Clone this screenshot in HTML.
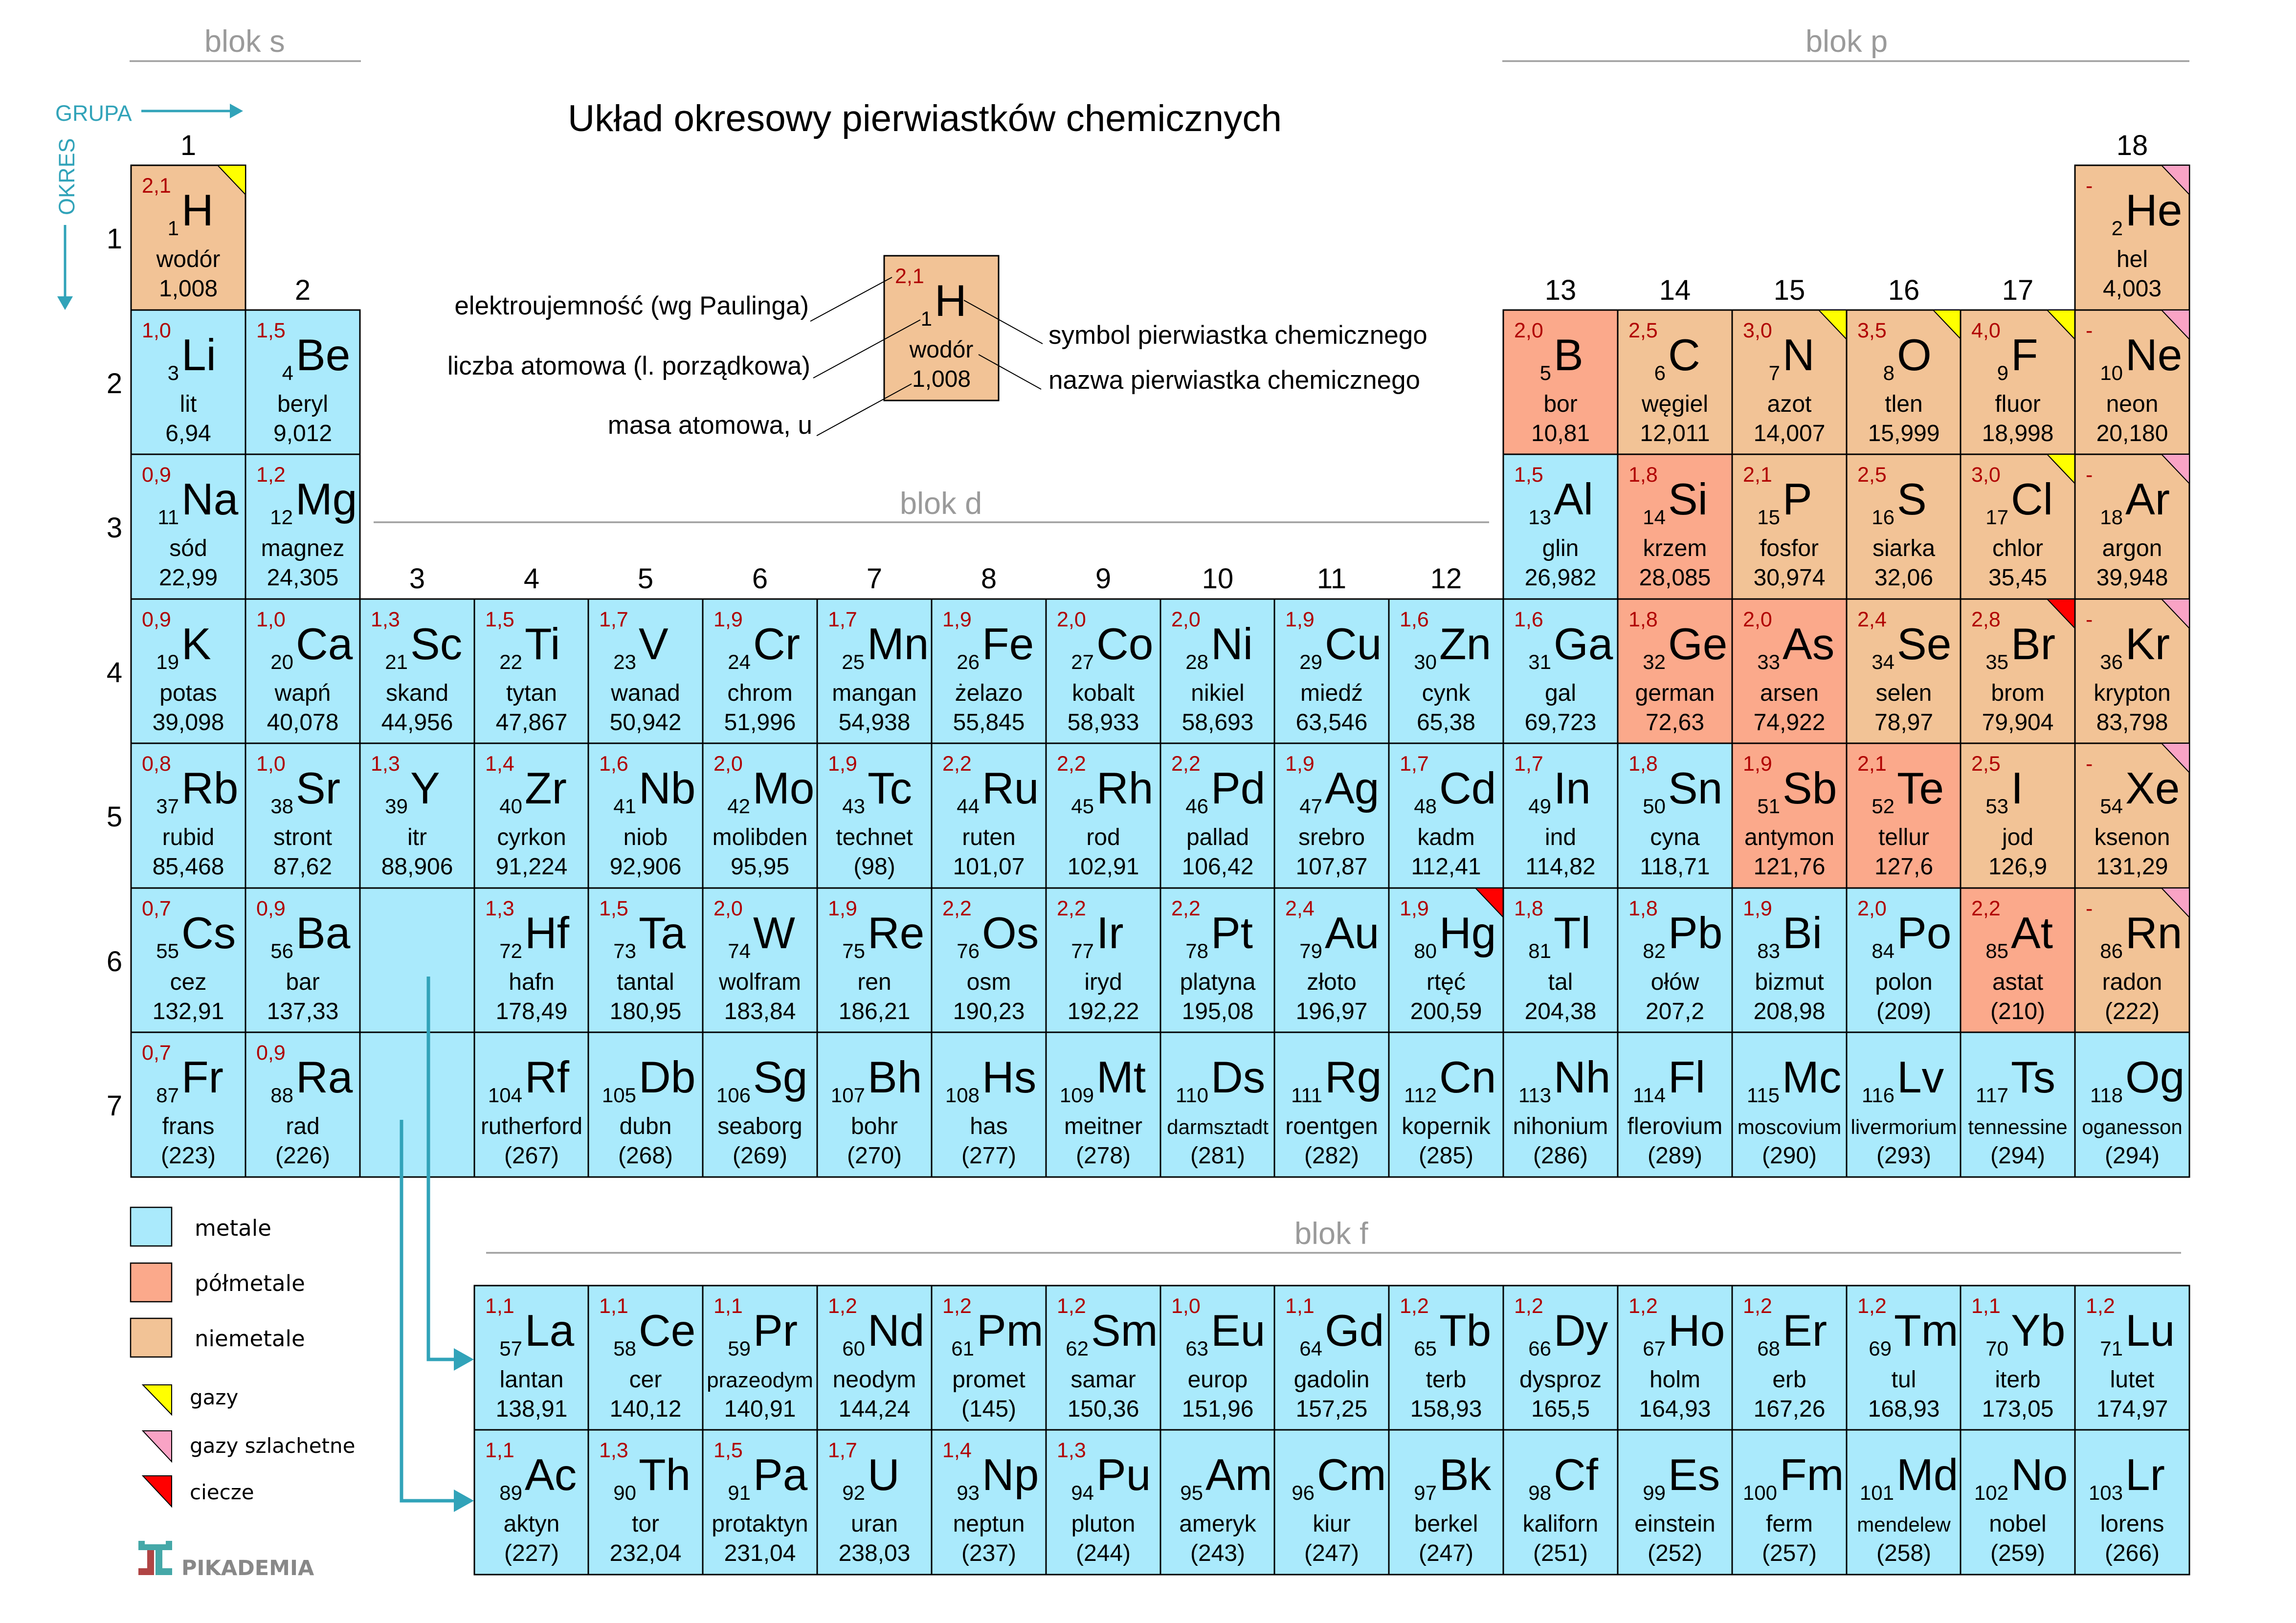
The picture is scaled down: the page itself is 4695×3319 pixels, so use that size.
<!DOCTYPE html>
<html lang="pl">
<head>
<meta charset="utf-8">
<title>Układ okresowy pierwiastków chemicznych</title>
<style>
html,body{margin:0;padding:0;background:#fff;}
svg{display:block;}
text{font-family:"Liberation Sans",Arial,sans-serif;fill:#000;}
.M{fill:#aaeafc;stroke:#000;stroke-width:3;}
.P{fill:#fba98b;stroke:#000;stroke-width:3;}
.N{fill:#f2c396;stroke:#000;stroke-width:3;}
.t1{fill:#ffff00;stroke:#000;stroke-width:2;}
.t2{fill:#f9a3c5;stroke:#000;stroke-width:2;}
.t3{fill:#ff0000;stroke:#000;stroke-width:2;}
.e{fill:#b00000;font-size:43px;}
.z{font-size:42px;text-anchor:end;}
.s{font-size:91px;}
.n{font-size:48px;text-anchor:middle;}
.ns{font-size:42px;text-anchor:middle;}
.w{font-size:48px;text-anchor:middle;}
.g{font-size:58px;text-anchor:middle;}
.b{font-size:63px;fill:#9a9a9a;}
.bl{stroke:#a0a0a0;stroke-width:3.5;}
.lg{font-family:"DejaVu Sans",Verdana,sans-serif;}
.ann{font-size:53px;}
.ld{stroke:#000;stroke-width:2;fill:none;}
.teal{fill:#31a3b9;}
</style>
</head>
<body>
<svg xmlns="http://www.w3.org/2000/svg" width="4695" height="3319" viewBox="0 0 4695 3319">
<rect x="0" y="0" width="4695" height="3319" fill="#fff"/>

<!-- block labels -->
<line class="bl" x1="265" y1="125" x2="738" y2="125"/>
<text class="b" x="418" y="106">blok s</text>
<line class="bl" x1="3072" y1="125" x2="4477" y2="125"/>
<text class="b" x="3692" y="106">blok p</text>
<line class="bl" x1="764" y1="1068" x2="3045" y2="1068"/>
<text class="b" x="1840" y="1051">blok d</text>
<line class="bl" x1="994" y1="2562" x2="4460" y2="2562"/>
<text class="b" x="2647" y="2544">blok f</text>

<!-- GRUPA / OKRES -->
<text x="113" y="247" font-size="45" fill="#31a3b9" style="fill:#31a3b9">GRUPA</text>
<line x1="289" y1="227" x2="474" y2="227" stroke="#31a3b9" stroke-width="5"/>
<polygon class="teal" points="470,212 497,227 470,242"/>
<text transform="translate(152,440) rotate(-90)" font-size="45" style="fill:#31a3b9">OKRES</text>
<line x1="133" y1="460" x2="133" y2="610" stroke="#31a3b9" stroke-width="5"/>
<polygon class="teal" points="117,606 149,606 133,634"/>

<!-- Title -->
<text x="1161" y="268" font-size="76" textLength="1460" lengthAdjust="spacingAndGlyphs">Układ okresowy pierwiastków chemicznych</text>

<!-- group numbers -->
<text class="g" x="385" y="317">1</text>
<text class="g" x="619" y="613">2</text>
<text class="g" x="853" y="1203">3</text>
<text class="g" x="1087" y="1203">4</text>
<text class="g" x="1320" y="1203">5</text>
<text class="g" x="1554" y="1203">6</text>
<text class="g" x="1788" y="1203">7</text>
<text class="g" x="2022" y="1203">8</text>
<text class="g" x="2256" y="1203">9</text>
<text class="g" x="2490" y="1203">10</text>
<text class="g" x="2723" y="1203">11</text>
<text class="g" x="2957" y="1203">12</text>
<text class="g" x="3191" y="613">13</text>
<text class="g" x="3425" y="613">14</text>
<text class="g" x="3659" y="613">15</text>
<text class="g" x="3893" y="613">16</text>
<text class="g" x="4126" y="613">17</text>
<text class="g" x="4360" y="317">18</text>

<!-- period numbers -->
<text class="g" x="234" y="508">1</text>
<text class="g" x="234" y="804">2</text>
<text class="g" x="234" y="1099">3</text>
<text class="g" x="234" y="1395">4</text>
<text class="g" x="234" y="1690">5</text>
<text class="g" x="234" y="1986">6</text>
<text class="g" x="234" y="2281">7</text>

<!-- Key diagram -->
<g transform="translate(1808,523)"><rect class="N" width="234" height="296"/><text class="e" x="22" y="56">2,1</text><text class="z" x="98" y="143">1</text><text class="s" x="103" y="123">H</text><text class="n" x="117" y="208">wodór</text><text class="w" x="117" y="268">1,008</text></g>
<text class="ann" x="1654" y="643" text-anchor="end">elektroujemność (wg Paulinga)</text>
<text class="ann" x="1657" y="766" text-anchor="end">liczba atomowa (l. porządkowa)</text>
<text class="ann" x="1661" y="887" text-anchor="end">masa atomowa, u</text>
<text class="ann" x="2144" y="703">symbol pierwiastka chemicznego</text>
<text class="ann" x="2144" y="795">nazwa pierwiastka chemicznego</text>
<line class="ld" x1="1657" y1="657" x2="1824" y2="567"/>
<line class="ld" x1="1663" y1="773" x2="1882" y2="654"/>
<line class="ld" x1="1670" y1="891" x2="1864" y2="785"/>
<line class="ld" x1="1971" y1="614" x2="2132" y2="703"/>
<line class="ld" x1="2001" y1="725" x2="2129" y2="796"/>

<!-- ROW 1 -->
<g transform="translate(268,338)"><rect class="N" width="234" height="296"/><path class="t1" d="M177 0H234V60Z"/><text class="e" x="22" y="56">2,1</text><text class="z" x="98" y="143">1</text><text class="s" x="103" y="123">H</text><text class="n" x="117" y="208">wodór</text><text class="w" x="117" y="268">1,008</text></g>
<g transform="translate(4243,338)"><rect class="N" width="234" height="296"/><path class="t2" d="M177 0H234V60Z"/><text class="e" x="22" y="56">-</text><text class="z" x="98" y="143">2</text><text class="s" x="103" y="123">He</text><text class="n" x="117" y="208">hel</text><text class="w" x="117" y="268">4,003</text></g>

<!-- ROW 2 -->
<g transform="translate(268,634)"><rect class="M" width="234" height="296"/><text class="e" x="22" y="56">1,0</text><text class="z" x="98" y="143">3</text><text class="s" x="103" y="123">Li</text><text class="n" x="117" y="208">lit</text><text class="w" x="117" y="268">6,94</text></g>
<g transform="translate(502,634)"><rect class="M" width="234" height="296"/><text class="e" x="22" y="56">1,5</text><text class="z" x="98" y="143">4</text><text class="s" x="103" y="123">Be</text><text class="n" x="117" y="208">beryl</text><text class="w" x="117" y="268">9,012</text></g>
<g transform="translate(3074,634)"><rect class="P" width="234" height="296"/><text class="e" x="22" y="56">2,0</text><text class="z" x="98" y="143">5</text><text class="s" x="103" y="123">B</text><text class="n" x="117" y="208">bor</text><text class="w" x="117" y="268">10,81</text></g>
<g transform="translate(3308,634)"><rect class="N" width="234" height="296"/><text class="e" x="22" y="56">2,5</text><text class="z" x="98" y="143">6</text><text class="s" x="103" y="123">C</text><text class="n" x="117" y="208">węgiel</text><text class="w" x="117" y="268">12,011</text></g>
<g transform="translate(3542,634)"><rect class="N" width="234" height="296"/><path class="t1" d="M177 0H234V60Z"/><text class="e" x="22" y="56">3,0</text><text class="z" x="98" y="143">7</text><text class="s" x="103" y="123">N</text><text class="n" x="117" y="208">azot</text><text class="w" x="117" y="268">14,007</text></g>
<g transform="translate(3776,634)"><rect class="N" width="234" height="296"/><path class="t1" d="M177 0H234V60Z"/><text class="e" x="22" y="56">3,5</text><text class="z" x="98" y="143">8</text><text class="s" x="103" y="123">O</text><text class="n" x="117" y="208">tlen</text><text class="w" x="117" y="268">15,999</text></g>
<g transform="translate(4009,634)"><rect class="N" width="234" height="296"/><path class="t1" d="M177 0H234V60Z"/><text class="e" x="22" y="56">4,0</text><text class="z" x="98" y="143">9</text><text class="s" x="103" y="123">F</text><text class="n" x="117" y="208">fluor</text><text class="w" x="117" y="268">18,998</text></g>
<g transform="translate(4243,634)"><rect class="N" width="234" height="296"/><path class="t2" d="M177 0H234V60Z"/><text class="e" x="22" y="56">-</text><text class="z" x="98" y="143">10</text><text class="s" x="103" y="123">Ne</text><text class="n" x="117" y="208">neon</text><text class="w" x="117" y="268">20,180</text></g>

<!-- ROW 3 -->
<g transform="translate(268,929)"><rect class="M" width="234" height="296"/><text class="e" x="22" y="56">0,9</text><text class="z" x="98" y="143">11</text><text class="s" x="103" y="123">Na</text><text class="n" x="117" y="208">sód</text><text class="w" x="117" y="268">22,99</text></g>
<g transform="translate(502,929)"><rect class="M" width="234" height="296"/><text class="e" x="22" y="56">1,2</text><text class="z" x="97" y="143">12</text><text class="s" x="102" y="123">Mg</text><text class="n" x="117" y="208">magnez</text><text class="w" x="117" y="268">24,305</text></g>
<g transform="translate(3074,929)"><rect class="M" width="234" height="296"/><text class="e" x="22" y="56">1,5</text><text class="z" x="98" y="143">13</text><text class="s" x="103" y="123">Al</text><text class="n" x="117" y="208">glin</text><text class="w" x="117" y="268">26,982</text></g>
<g transform="translate(3308,929)"><rect class="P" width="234" height="296"/><text class="e" x="22" y="56">1,8</text><text class="z" x="98" y="143">14</text><text class="s" x="103" y="123">Si</text><text class="n" x="117" y="208">krzem</text><text class="w" x="117" y="268">28,085</text></g>
<g transform="translate(3542,929)"><rect class="N" width="234" height="296"/><text class="e" x="22" y="56">2,1</text><text class="z" x="98" y="143">15</text><text class="s" x="103" y="123">P</text><text class="n" x="117" y="208">fosfor</text><text class="w" x="117" y="268">30,974</text></g>
<g transform="translate(3776,929)"><rect class="N" width="234" height="296"/><text class="e" x="22" y="56">2,5</text><text class="z" x="98" y="143">16</text><text class="s" x="103" y="123">S</text><text class="n" x="117" y="208">siarka</text><text class="w" x="117" y="268">32,06</text></g>
<g transform="translate(4009,929)"><rect class="N" width="234" height="296"/><path class="t1" d="M177 0H234V60Z"/><text class="e" x="22" y="56">3,0</text><text class="z" x="98" y="143">17</text><text class="s" x="103" y="123">Cl</text><text class="n" x="117" y="208">chlor</text><text class="w" x="117" y="268">35,45</text></g>
<g transform="translate(4243,929)"><rect class="N" width="234" height="296"/><path class="t2" d="M177 0H234V60Z"/><text class="e" x="22" y="56">-</text><text class="z" x="98" y="143">18</text><text class="s" x="103" y="123">Ar</text><text class="n" x="117" y="208">argon</text><text class="w" x="117" y="268">39,948</text></g>

<!-- ROW 4 -->
<g transform="translate(268,1225)"><rect class="M" width="234" height="296"/><text class="e" x="22" y="56">0,9</text><text class="z" x="98" y="143">19</text><text class="s" x="103" y="123">K</text><text class="n" x="117" y="208">potas</text><text class="w" x="117" y="268">39,098</text></g>
<g transform="translate(502,1225)"><rect class="M" width="234" height="296"/><text class="e" x="22" y="56">1,0</text><text class="z" x="98" y="143">20</text><text class="s" x="103" y="123">Ca</text><text class="n" x="117" y="208">wapń</text><text class="w" x="117" y="268">40,078</text></g>
<g transform="translate(736,1225)"><rect class="M" width="234" height="296"/><text class="e" x="22" y="56">1,3</text><text class="z" x="98" y="143">21</text><text class="s" x="103" y="123">Sc</text><text class="n" x="117" y="208">skand</text><text class="w" x="117" y="268">44,956</text></g>
<g transform="translate(970,1225)"><rect class="M" width="234" height="296"/><text class="e" x="22" y="56">1,5</text><text class="z" x="98" y="143">22</text><text class="s" x="103" y="123">Ti</text><text class="n" x="117" y="208">tytan</text><text class="w" x="117" y="268">47,867</text></g>
<g transform="translate(1203,1225)"><rect class="M" width="234" height="296"/><text class="e" x="22" y="56">1,7</text><text class="z" x="98" y="143">23</text><text class="s" x="103" y="123">V</text><text class="n" x="117" y="208">wanad</text><text class="w" x="117" y="268">50,942</text></g>
<g transform="translate(1437,1225)"><rect class="M" width="234" height="296"/><text class="e" x="22" y="56">1,9</text><text class="z" x="98" y="143">24</text><text class="s" x="103" y="123">Cr</text><text class="n" x="117" y="208">chrom</text><text class="w" x="117" y="268">51,996</text></g>
<g transform="translate(1671,1225)"><rect class="M" width="234" height="296"/><text class="e" x="22" y="56">1,7</text><text class="z" x="97" y="143">25</text><text class="s" x="102" y="123">Mn</text><text class="n" x="117" y="208">mangan</text><text class="w" x="117" y="268">54,938</text></g>
<g transform="translate(1905,1225)"><rect class="M" width="234" height="296"/><text class="e" x="22" y="56">1,9</text><text class="z" x="98" y="143">26</text><text class="s" x="103" y="123">Fe</text><text class="n" x="117" y="208">żelazo</text><text class="w" x="117" y="268">55,845</text></g>
<g transform="translate(2139,1225)"><rect class="M" width="234" height="296"/><text class="e" x="22" y="56">2,0</text><text class="z" x="98" y="143">27</text><text class="s" x="103" y="123">Co</text><text class="n" x="117" y="208">kobalt</text><text class="w" x="117" y="268">58,933</text></g>
<g transform="translate(2373,1225)"><rect class="M" width="234" height="296"/><text class="e" x="22" y="56">2,0</text><text class="z" x="98" y="143">28</text><text class="s" x="103" y="123">Ni</text><text class="n" x="117" y="208">nikiel</text><text class="w" x="117" y="268">58,693</text></g>
<g transform="translate(2606,1225)"><rect class="M" width="234" height="296"/><text class="e" x="22" y="56">1,9</text><text class="z" x="98" y="143">29</text><text class="s" x="103" y="123">Cu</text><text class="n" x="117" y="208">miedź</text><text class="w" x="117" y="268">63,546</text></g>
<g transform="translate(2840,1225)"><rect class="M" width="234" height="296"/><text class="e" x="22" y="56">1,6</text><text class="z" x="98" y="143">30</text><text class="s" x="103" y="123">Zn</text><text class="n" x="117" y="208">cynk</text><text class="w" x="117" y="268">65,38</text></g>
<g transform="translate(3074,1225)"><rect class="M" width="234" height="296"/><text class="e" x="22" y="56">1,6</text><text class="z" x="98" y="143">31</text><text class="s" x="103" y="123">Ga</text><text class="n" x="117" y="208">gal</text><text class="w" x="117" y="268">69,723</text></g>
<g transform="translate(3308,1225)"><rect class="P" width="234" height="296"/><text class="e" x="22" y="56">1,8</text><text class="z" x="98" y="143">32</text><text class="s" x="103" y="123">Ge</text><text class="n" x="117" y="208">german</text><text class="w" x="117" y="268">72,63</text></g>
<g transform="translate(3542,1225)"><rect class="P" width="234" height="296"/><text class="e" x="22" y="56">2,0</text><text class="z" x="98" y="143">33</text><text class="s" x="103" y="123">As</text><text class="n" x="117" y="208">arsen</text><text class="w" x="117" y="268">74,922</text></g>
<g transform="translate(3776,1225)"><rect class="N" width="234" height="296"/><text class="e" x="22" y="56">2,4</text><text class="z" x="98" y="143">34</text><text class="s" x="103" y="123">Se</text><text class="n" x="117" y="208">selen</text><text class="w" x="117" y="268">78,97</text></g>
<g transform="translate(4009,1225)"><rect class="N" width="234" height="296"/><path class="t3" d="M177 0H234V60Z"/><text class="e" x="22" y="56">2,8</text><text class="z" x="98" y="143">35</text><text class="s" x="103" y="123">Br</text><text class="n" x="117" y="208">brom</text><text class="w" x="117" y="268">79,904</text></g>
<g transform="translate(4243,1225)"><rect class="N" width="234" height="296"/><path class="t2" d="M177 0H234V60Z"/><text class="e" x="22" y="56">-</text><text class="z" x="98" y="143">36</text><text class="s" x="103" y="123">Kr</text><text class="n" x="117" y="208">krypton</text><text class="w" x="117" y="268">83,798</text></g>

<!-- ROW 5 -->
<g transform="translate(268,1520)"><rect class="M" width="234" height="296"/><text class="e" x="22" y="56">0,8</text><text class="z" x="98" y="143">37</text><text class="s" x="103" y="123">Rb</text><text class="n" x="117" y="208">rubid</text><text class="w" x="117" y="268">85,468</text></g>
<g transform="translate(502,1520)"><rect class="M" width="234" height="296"/><text class="e" x="22" y="56">1,0</text><text class="z" x="98" y="143">38</text><text class="s" x="103" y="123">Sr</text><text class="n" x="117" y="208">stront</text><text class="w" x="117" y="268">87,62</text></g>
<g transform="translate(736,1520)"><rect class="M" width="234" height="296"/><text class="e" x="22" y="56">1,3</text><text class="z" x="98" y="143">39</text><text class="s" x="103" y="123">Y</text><text class="n" x="117" y="208">itr</text><text class="w" x="117" y="268">88,906</text></g>
<g transform="translate(970,1520)"><rect class="M" width="234" height="296"/><text class="e" x="22" y="56">1,4</text><text class="z" x="98" y="143">40</text><text class="s" x="103" y="123">Zr</text><text class="n" x="117" y="208">cyrkon</text><text class="w" x="117" y="268">91,224</text></g>
<g transform="translate(1203,1520)"><rect class="M" width="234" height="296"/><text class="e" x="22" y="56">1,6</text><text class="z" x="98" y="143">41</text><text class="s" x="103" y="123">Nb</text><text class="n" x="117" y="208">niob</text><text class="w" x="117" y="268">92,906</text></g>
<g transform="translate(1437,1520)"><rect class="M" width="234" height="296"/><text class="e" x="22" y="56">2,0</text><text class="z" x="97" y="143">42</text><text class="s" x="102" y="123">Mo</text><text class="n" x="117" y="208">molibden</text><text class="w" x="117" y="268">95,95</text></g>
<g transform="translate(1671,1520)"><rect class="M" width="234" height="296"/><text class="e" x="22" y="56">1,9</text><text class="z" x="98" y="143">43</text><text class="s" x="103" y="123">Tc</text><text class="n" x="117" y="208">technet</text><text class="w" x="117" y="268">(98)</text></g>
<g transform="translate(1905,1520)"><rect class="M" width="234" height="296"/><text class="e" x="22" y="56">2,2</text><text class="z" x="98" y="143">44</text><text class="s" x="103" y="123">Ru</text><text class="n" x="117" y="208">ruten</text><text class="w" x="117" y="268">101,07</text></g>
<g transform="translate(2139,1520)"><rect class="M" width="234" height="296"/><text class="e" x="22" y="56">2,2</text><text class="z" x="98" y="143">45</text><text class="s" x="103" y="123">Rh</text><text class="n" x="117" y="208">rod</text><text class="w" x="117" y="268">102,91</text></g>
<g transform="translate(2373,1520)"><rect class="M" width="234" height="296"/><text class="e" x="22" y="56">2,2</text><text class="z" x="98" y="143">46</text><text class="s" x="103" y="123">Pd</text><text class="n" x="117" y="208">pallad</text><text class="w" x="117" y="268">106,42</text></g>
<g transform="translate(2606,1520)"><rect class="M" width="234" height="296"/><text class="e" x="22" y="56">1,9</text><text class="z" x="98" y="143">47</text><text class="s" x="103" y="123">Ag</text><text class="n" x="117" y="208">srebro</text><text class="w" x="117" y="268">107,87</text></g>
<g transform="translate(2840,1520)"><rect class="M" width="234" height="296"/><text class="e" x="22" y="56">1,7</text><text class="z" x="98" y="143">48</text><text class="s" x="103" y="123">Cd</text><text class="n" x="117" y="208">kadm</text><text class="w" x="117" y="268">112,41</text></g>
<g transform="translate(3074,1520)"><rect class="M" width="234" height="296"/><text class="e" x="22" y="56">1,7</text><text class="z" x="98" y="143">49</text><text class="s" x="103" y="123">In</text><text class="n" x="117" y="208">ind</text><text class="w" x="117" y="268">114,82</text></g>
<g transform="translate(3308,1520)"><rect class="M" width="234" height="296"/><text class="e" x="22" y="56">1,8</text><text class="z" x="98" y="143">50</text><text class="s" x="103" y="123">Sn</text><text class="n" x="117" y="208">cyna</text><text class="w" x="117" y="268">118,71</text></g>
<g transform="translate(3542,1520)"><rect class="P" width="234" height="296"/><text class="e" x="22" y="56">1,9</text><text class="z" x="98" y="143">51</text><text class="s" x="103" y="123">Sb</text><text class="n" x="117" y="208">antymon</text><text class="w" x="117" y="268">121,76</text></g>
<g transform="translate(3776,1520)"><rect class="P" width="234" height="296"/><text class="e" x="22" y="56">2,1</text><text class="z" x="98" y="143">52</text><text class="s" x="103" y="123">Te</text><text class="n" x="117" y="208">tellur</text><text class="w" x="117" y="268">127,6</text></g>
<g transform="translate(4009,1520)"><rect class="N" width="234" height="296"/><text class="e" x="22" y="56">2,5</text><text class="z" x="98" y="143">53</text><text class="s" x="103" y="123">I</text><text class="n" x="117" y="208">jod</text><text class="w" x="117" y="268">126,9</text></g>
<g transform="translate(4243,1520)"><rect class="N" width="234" height="296"/><path class="t2" d="M177 0H234V60Z"/><text class="e" x="22" y="56">-</text><text class="z" x="98" y="143">54</text><text class="s" x="103" y="123">Xe</text><text class="n" x="117" y="208">ksenon</text><text class="w" x="117" y="268">131,29</text></g>

<!-- ROW 6 -->
<g transform="translate(268,1816)"><rect class="M" width="234" height="296"/><text class="e" x="22" y="56">0,7</text><text class="z" x="98" y="143">55</text><text class="s" x="103" y="123">Cs</text><text class="n" x="117" y="208">cez</text><text class="w" x="117" y="268">132,91</text></g>
<g transform="translate(502,1816)"><rect class="M" width="234" height="296"/><text class="e" x="22" y="56">0,9</text><text class="z" x="98" y="143">56</text><text class="s" x="103" y="123">Ba</text><text class="n" x="117" y="208">bar</text><text class="w" x="117" y="268">137,33</text></g>
<g transform="translate(736,1816)"><rect class="M" width="234" height="296"/></g>
<g transform="translate(970,1816)"><rect class="M" width="234" height="296"/><text class="e" x="22" y="56">1,3</text><text class="z" x="98" y="143">72</text><text class="s" x="103" y="123">Hf</text><text class="n" x="117" y="208">hafn</text><text class="w" x="117" y="268">178,49</text></g>
<g transform="translate(1203,1816)"><rect class="M" width="234" height="296"/><text class="e" x="22" y="56">1,5</text><text class="z" x="98" y="143">73</text><text class="s" x="103" y="123">Ta</text><text class="n" x="117" y="208">tantal</text><text class="w" x="117" y="268">180,95</text></g>
<g transform="translate(1437,1816)"><rect class="M" width="234" height="296"/><text class="e" x="22" y="56">2,0</text><text class="z" x="98" y="143">74</text><text class="s" x="103" y="123">W</text><text class="n" x="117" y="208">wolfram</text><text class="w" x="117" y="268">183,84</text></g>
<g transform="translate(1671,1816)"><rect class="M" width="234" height="296"/><text class="e" x="22" y="56">1,9</text><text class="z" x="98" y="143">75</text><text class="s" x="103" y="123">Re</text><text class="n" x="117" y="208">ren</text><text class="w" x="117" y="268">186,21</text></g>
<g transform="translate(1905,1816)"><rect class="M" width="234" height="296"/><text class="e" x="22" y="56">2,2</text><text class="z" x="98" y="143">76</text><text class="s" x="103" y="123">Os</text><text class="n" x="117" y="208">osm</text><text class="w" x="117" y="268">190,23</text></g>
<g transform="translate(2139,1816)"><rect class="M" width="234" height="296"/><text class="e" x="22" y="56">2,2</text><text class="z" x="98" y="143">77</text><text class="s" x="103" y="123">Ir</text><text class="n" x="117" y="208">iryd</text><text class="w" x="117" y="268">192,22</text></g>
<g transform="translate(2373,1816)"><rect class="M" width="234" height="296"/><text class="e" x="22" y="56">2,2</text><text class="z" x="98" y="143">78</text><text class="s" x="103" y="123">Pt</text><text class="n" x="117" y="208">platyna</text><text class="w" x="117" y="268">195,08</text></g>
<g transform="translate(2606,1816)"><rect class="M" width="234" height="296"/><text class="e" x="22" y="56">2,4</text><text class="z" x="98" y="143">79</text><text class="s" x="103" y="123">Au</text><text class="n" x="117" y="208">złoto</text><text class="w" x="117" y="268">196,97</text></g>
<g transform="translate(2840,1816)"><rect class="M" width="234" height="296"/><path class="t3" d="M177 0H234V60Z"/><text class="e" x="22" y="56">1,9</text><text class="z" x="98" y="143">80</text><text class="s" x="103" y="123">Hg</text><text class="n" x="117" y="208">rtęć</text><text class="w" x="117" y="268">200,59</text></g>
<g transform="translate(3074,1816)"><rect class="M" width="234" height="296"/><text class="e" x="22" y="56">1,8</text><text class="z" x="98" y="143">81</text><text class="s" x="103" y="123">Tl</text><text class="n" x="117" y="208">tal</text><text class="w" x="117" y="268">204,38</text></g>
<g transform="translate(3308,1816)"><rect class="M" width="234" height="296"/><text class="e" x="22" y="56">1,8</text><text class="z" x="98" y="143">82</text><text class="s" x="103" y="123">Pb</text><text class="n" x="117" y="208">ołów</text><text class="w" x="117" y="268">207,2</text></g>
<g transform="translate(3542,1816)"><rect class="M" width="234" height="296"/><text class="e" x="22" y="56">1,9</text><text class="z" x="98" y="143">83</text><text class="s" x="103" y="123">Bi</text><text class="n" x="117" y="208">bizmut</text><text class="w" x="117" y="268">208,98</text></g>
<g transform="translate(3776,1816)"><rect class="M" width="234" height="296"/><text class="e" x="22" y="56">2,0</text><text class="z" x="98" y="143">84</text><text class="s" x="103" y="123">Po</text><text class="n" x="117" y="208">polon</text><text class="w" x="117" y="268">(209)</text></g>
<g transform="translate(4009,1816)"><rect class="P" width="234" height="296"/><text class="e" x="22" y="56">2,2</text><text class="z" x="98" y="143">85</text><text class="s" x="103" y="123">At</text><text class="n" x="117" y="208">astat</text><text class="w" x="117" y="268">(210)</text></g>
<g transform="translate(4243,1816)"><rect class="N" width="234" height="296"/><path class="t2" d="M177 0H234V60Z"/><text class="e" x="22" y="56">-</text><text class="z" x="98" y="143">86</text><text class="s" x="103" y="123">Rn</text><text class="n" x="117" y="208">radon</text><text class="w" x="117" y="268">(222)</text></g>

<!-- ROW 7 -->
<g transform="translate(268,2111)"><rect class="M" width="234" height="296"/><text class="e" x="22" y="56">0,7</text><text class="z" x="98" y="143">87</text><text class="s" x="103" y="123">Fr</text><text class="n" x="117" y="208">frans</text><text class="w" x="117" y="268">(223)</text></g>
<g transform="translate(502,2111)"><rect class="M" width="234" height="296"/><text class="e" x="22" y="56">0,9</text><text class="z" x="98" y="143">88</text><text class="s" x="103" y="123">Ra</text><text class="n" x="117" y="208">rad</text><text class="w" x="117" y="268">(226)</text></g>
<g transform="translate(736,2111)"><rect class="M" width="234" height="296"/></g>
<g transform="translate(970,2111)"><rect class="M" width="234" height="296"/><text class="z" x="98" y="143">104</text><text class="s" x="103" y="123">Rf</text><text class="n" x="117" y="208">rutherford</text><text class="w" x="117" y="268">(267)</text></g>
<g transform="translate(1203,2111)"><rect class="M" width="234" height="296"/><text class="z" x="98" y="143">105</text><text class="s" x="103" y="123">Db</text><text class="n" x="117" y="208">dubn</text><text class="w" x="117" y="268">(268)</text></g>
<g transform="translate(1437,2111)"><rect class="M" width="234" height="296"/><text class="z" x="98" y="143">106</text><text class="s" x="103" y="123">Sg</text><text class="n" x="117" y="208">seaborg</text><text class="w" x="117" y="268">(269)</text></g>
<g transform="translate(1671,2111)"><rect class="M" width="234" height="296"/><text class="z" x="98" y="143">107</text><text class="s" x="103" y="123">Bh</text><text class="n" x="117" y="208">bohr</text><text class="w" x="117" y="268">(270)</text></g>
<g transform="translate(1905,2111)"><rect class="M" width="234" height="296"/><text class="z" x="98" y="143">108</text><text class="s" x="103" y="123">Hs</text><text class="n" x="117" y="208">has</text><text class="w" x="117" y="268">(277)</text></g>
<g transform="translate(2139,2111)"><rect class="M" width="234" height="296"/><text class="z" x="98" y="143">109</text><text class="s" x="103" y="123">Mt</text><text class="n" x="117" y="208">meitner</text><text class="w" x="117" y="268">(278)</text></g>
<g transform="translate(2373,2111)"><rect class="M" width="234" height="296"/><text class="z" x="98" y="143">110</text><text class="s" x="103" y="123">Ds</text><text class="ns" x="117" y="208">darmsztadt</text><text class="w" x="117" y="268">(281)</text></g>
<g transform="translate(2606,2111)"><rect class="M" width="234" height="296"/><text class="z" x="98" y="143">111</text><text class="s" x="103" y="123">Rg</text><text class="n" x="117" y="208">roentgen</text><text class="w" x="117" y="268">(282)</text></g>
<g transform="translate(2840,2111)"><rect class="M" width="234" height="296"/><text class="z" x="98" y="143">112</text><text class="s" x="103" y="123">Cn</text><text class="n" x="117" y="208">kopernik</text><text class="w" x="117" y="268">(285)</text></g>
<g transform="translate(3074,2111)"><rect class="M" width="234" height="296"/><text class="z" x="98" y="143">113</text><text class="s" x="103" y="123">Nh</text><text class="n" x="117" y="208">nihonium</text><text class="w" x="117" y="268">(286)</text></g>
<g transform="translate(3308,2111)"><rect class="M" width="234" height="296"/><text class="z" x="98" y="143">114</text><text class="s" x="103" y="123">Fl</text><text class="n" x="117" y="208">flerovium</text><text class="w" x="117" y="268">(289)</text></g>
<g transform="translate(3542,2111)"><rect class="M" width="234" height="296"/><text class="z" x="97" y="143">115</text><text class="s" x="102" y="123">Mc</text><text class="ns" x="117" y="208">moscovium</text><text class="w" x="117" y="268">(290)</text></g>
<g transform="translate(3776,2111)"><rect class="M" width="234" height="296"/><text class="z" x="98" y="143">116</text><text class="s" x="103" y="123">Lv</text><text class="ns" x="117" y="208">livermorium</text><text class="w" x="117" y="268">(293)</text></g>
<g transform="translate(4009,2111)"><rect class="M" width="234" height="296"/><text class="z" x="98" y="143">117</text><text class="s" x="103" y="123">Ts</text><text class="ns" x="117" y="208">tennessine</text><text class="w" x="117" y="268">(294)</text></g>
<g transform="translate(4243,2111)"><rect class="M" width="234" height="296"/><text class="z" x="98" y="143">118</text><text class="s" x="103" y="123">Og</text><text class="ns" x="117" y="208">oganesson</text><text class="w" x="117" y="268">(294)</text></g>

<!-- Lanthanides -->
<g transform="translate(970,2629)"><rect class="M" width="234" height="296"/><text class="e" x="22" y="56">1,1</text><text class="z" x="98" y="143">57</text><text class="s" x="103" y="123">La</text><text class="n" x="117" y="208">lantan</text><text class="w" x="117" y="268">138,91</text></g>
<g transform="translate(1203,2629)"><rect class="M" width="234" height="296"/><text class="e" x="22" y="56">1,1</text><text class="z" x="98" y="143">58</text><text class="s" x="103" y="123">Ce</text><text class="n" x="117" y="208">cer</text><text class="w" x="117" y="268">140,12</text></g>
<g transform="translate(1437,2629)"><rect class="M" width="234" height="296"/><text class="e" x="22" y="56">1,1</text><text class="z" x="98" y="143">59</text><text class="s" x="103" y="123">Pr</text><text class="ns" x="117" y="208" style="font-size:44px">prazeodym</text><text class="w" x="117" y="268">140,91</text></g>
<g transform="translate(1671,2629)"><rect class="M" width="234" height="296"/><text class="e" x="22" y="56">1,2</text><text class="z" x="98" y="143">60</text><text class="s" x="103" y="123">Nd</text><text class="n" x="117" y="208">neodym</text><text class="w" x="117" y="268">144,24</text></g>
<g transform="translate(1905,2629)"><rect class="M" width="234" height="296"/><text class="e" x="22" y="56">1,2</text><text class="z" x="87" y="143">61</text><text class="s" x="92" y="123">Pm</text><text class="n" x="117" y="208">promet</text><text class="w" x="117" y="268">(145)</text></g>
<g transform="translate(2139,2629)"><rect class="M" width="234" height="296"/><text class="e" x="22" y="56">1,2</text><text class="z" x="87" y="143">62</text><text class="s" x="92" y="123">Sm</text><text class="n" x="117" y="208">samar</text><text class="w" x="117" y="268">150,36</text></g>
<g transform="translate(2373,2629)"><rect class="M" width="234" height="296"/><text class="e" x="22" y="56">1,0</text><text class="z" x="98" y="143">63</text><text class="s" x="103" y="123">Eu</text><text class="n" x="117" y="208">europ</text><text class="w" x="117" y="268">151,96</text></g>
<g transform="translate(2606,2629)"><rect class="M" width="234" height="296"/><text class="e" x="22" y="56">1,1</text><text class="z" x="98" y="143">64</text><text class="s" x="103" y="123">Gd</text><text class="n" x="117" y="208">gadolin</text><text class="w" x="117" y="268">157,25</text></g>
<g transform="translate(2840,2629)"><rect class="M" width="234" height="296"/><text class="e" x="22" y="56">1,2</text><text class="z" x="98" y="143">65</text><text class="s" x="103" y="123">Tb</text><text class="n" x="117" y="208">terb</text><text class="w" x="117" y="268">158,93</text></g>
<g transform="translate(3074,2629)"><rect class="M" width="234" height="296"/><text class="e" x="22" y="56">1,2</text><text class="z" x="98" y="143">66</text><text class="s" x="103" y="123">Dy</text><text class="n" x="117" y="208">dysproz</text><text class="w" x="117" y="268">165,5</text></g>
<g transform="translate(3308,2629)"><rect class="M" width="234" height="296"/><text class="e" x="22" y="56">1,2</text><text class="z" x="98" y="143">67</text><text class="s" x="103" y="123">Ho</text><text class="n" x="117" y="208">holm</text><text class="w" x="117" y="268">164,93</text></g>
<g transform="translate(3542,2629)"><rect class="M" width="234" height="296"/><text class="e" x="22" y="56">1,2</text><text class="z" x="98" y="143">68</text><text class="s" x="103" y="123">Er</text><text class="n" x="117" y="208">erb</text><text class="w" x="117" y="268">167,26</text></g>
<g transform="translate(3776,2629)"><rect class="M" width="234" height="296"/><text class="e" x="22" y="56">1,2</text><text class="z" x="92" y="143">69</text><text class="s" x="97" y="123">Tm</text><text class="n" x="117" y="208">tul</text><text class="w" x="117" y="268">168,93</text></g>
<g transform="translate(4009,2629)"><rect class="M" width="234" height="296"/><text class="e" x="22" y="56">1,1</text><text class="z" x="98" y="143">70</text><text class="s" x="103" y="123">Yb</text><text class="n" x="117" y="208">iterb</text><text class="w" x="117" y="268">173,05</text></g>
<g transform="translate(4243,2629)"><rect class="M" width="234" height="296"/><text class="e" x="22" y="56">1,2</text><text class="z" x="98" y="143">71</text><text class="s" x="103" y="123">Lu</text><text class="n" x="117" y="208">lutet</text><text class="w" x="117" y="268">174,97</text></g>

<!-- Actinides -->
<g transform="translate(970,2924)"><rect class="M" width="234" height="296"/><text class="e" x="22" y="56">1,1</text><text class="z" x="98" y="143">89</text><text class="s" x="103" y="123">Ac</text><text class="n" x="117" y="208">aktyn</text><text class="w" x="117" y="268">(227)</text></g>
<g transform="translate(1203,2924)"><rect class="M" width="234" height="296"/><text class="e" x="22" y="56">1,3</text><text class="z" x="98" y="143">90</text><text class="s" x="103" y="123">Th</text><text class="n" x="117" y="208">tor</text><text class="w" x="117" y="268">232,04</text></g>
<g transform="translate(1437,2924)"><rect class="M" width="234" height="296"/><text class="e" x="22" y="56">1,5</text><text class="z" x="98" y="143">91</text><text class="s" x="103" y="123">Pa</text><text class="n" x="117" y="208">protaktyn</text><text class="w" x="117" y="268">231,04</text></g>
<g transform="translate(1671,2924)"><rect class="M" width="234" height="296"/><text class="e" x="22" y="56">1,7</text><text class="z" x="98" y="143">92</text><text class="s" x="103" y="123">U</text><text class="n" x="117" y="208">uran</text><text class="w" x="117" y="268">238,03</text></g>
<g transform="translate(1905,2924)"><rect class="M" width="234" height="296"/><text class="e" x="22" y="56">1,4</text><text class="z" x="98" y="143">93</text><text class="s" x="103" y="123">Np</text><text class="n" x="117" y="208">neptun</text><text class="w" x="117" y="268">(237)</text></g>
<g transform="translate(2139,2924)"><rect class="M" width="234" height="296"/><text class="e" x="22" y="56">1,3</text><text class="z" x="98" y="143">94</text><text class="s" x="103" y="123">Pu</text><text class="n" x="117" y="208">pluton</text><text class="w" x="117" y="268">(244)</text></g>
<g transform="translate(2373,2924)"><rect class="M" width="234" height="296"/><text class="z" x="87" y="143">95</text><text class="s" x="92" y="123">Am</text><text class="n" x="117" y="208">ameryk</text><text class="w" x="117" y="268">(243)</text></g>
<g transform="translate(2606,2924)"><rect class="M" width="234" height="296"/><text class="z" x="82" y="143">96</text><text class="s" x="87" y="123">Cm</text><text class="n" x="117" y="208">kiur</text><text class="w" x="117" y="268">(247)</text></g>
<g transform="translate(2840,2924)"><rect class="M" width="234" height="296"/><text class="z" x="98" y="143">97</text><text class="s" x="103" y="123">Bk</text><text class="n" x="117" y="208">berkel</text><text class="w" x="117" y="268">(247)</text></g>
<g transform="translate(3074,2924)"><rect class="M" width="234" height="296"/><text class="z" x="98" y="143">98</text><text class="s" x="103" y="123">Cf</text><text class="n" x="117" y="208">kaliforn</text><text class="w" x="117" y="268">(251)</text></g>
<g transform="translate(3308,2924)"><rect class="M" width="234" height="296"/><text class="z" x="98" y="143">99</text><text class="s" x="103" y="123">Es</text><text class="n" x="117" y="208">einstein</text><text class="w" x="117" y="268">(252)</text></g>
<g transform="translate(3542,2924)"><rect class="M" width="234" height="296"/><text class="z" x="92" y="143">100</text><text class="s" x="97" y="123">Fm</text><text class="n" x="117" y="208">ferm</text><text class="w" x="117" y="268">(257)</text></g>
<g transform="translate(3776,2924)"><rect class="M" width="234" height="296"/><text class="z" x="97" y="143">101</text><text class="s" x="102" y="123">Md</text><text class="ns" x="117" y="208">mendelew</text><text class="w" x="117" y="268">(258)</text></g>
<g transform="translate(4009,2924)"><rect class="M" width="234" height="296"/><text class="z" x="98" y="143">102</text><text class="s" x="103" y="123">No</text><text class="n" x="117" y="208">nobel</text><text class="w" x="117" y="268">(259)</text></g>
<g transform="translate(4243,2924)"><rect class="M" width="234" height="296"/><text class="z" x="98" y="143">103</text><text class="s" x="103" y="123">Lr</text><text class="n" x="117" y="208">lorens</text><text class="w" x="117" y="268">(266)</text></g>

<!-- connecting arrows -->
<polyline points="876,1997 876,2780 932,2780" fill="none" stroke="#31a3b9" stroke-width="7"/>
<polygon class="teal" points="928,2757 969,2780 928,2803"/>
<polyline points="821,2290 821,3069 932,3069" fill="none" stroke="#31a3b9" stroke-width="7"/>
<polygon class="teal" points="928,3046 969,3069 928,3092"/>

<!-- Legend -->
<rect class="M" x="267" y="2469" width="84" height="79" style="stroke-width:2.5"/>
<rect class="P" x="267" y="2583" width="84" height="79" style="stroke-width:2.5"/>
<rect class="N" x="267" y="2696" width="84" height="79" style="stroke-width:2.5"/>
<text class="lg" x="398" y="2527" font-size="45">metale</text>
<text class="lg" x="398" y="2640" font-size="45">półmetale</text>
<text class="lg" x="398" y="2753" font-size="45">niemetale</text>
<polygon class="t1" points="292,2832 351,2832 351,2893"/>
<polygon class="t2" points="292,2926 351,2926 351,2989"/>
<polygon class="t3" points="292,3018 351,3018 351,3081"/>
<text class="lg" x="388" y="2872" font-size="42">gazy</text>
<text class="lg" x="388" y="2971" font-size="42">gazy szlachetne</text>
<text class="lg" x="388" y="3066" font-size="42">ciecze</text>

<!-- Logo -->
<rect x="283" y="3158" width="69" height="12" fill="#45a8a8"/>
<rect x="283" y="3151" width="13" height="8" fill="#45a8a8"/>
<rect x="339" y="3151" width="13" height="8" fill="#45a8a8"/>
<rect x="301" y="3170" width="14" height="51" fill="#b04545"/>
<rect x="283" y="3207" width="32" height="14" fill="#b04545"/>
<rect x="318" y="3170" width="14" height="51" fill="#45a8a8"/>
<rect x="318" y="3207" width="34" height="14" fill="#45a8a8"/>
<text class="lg" x="371" y="3221" font-size="43" font-weight="bold" style="fill:#888888">PIKADEMIA</text>
</svg>
</body>
</html>
